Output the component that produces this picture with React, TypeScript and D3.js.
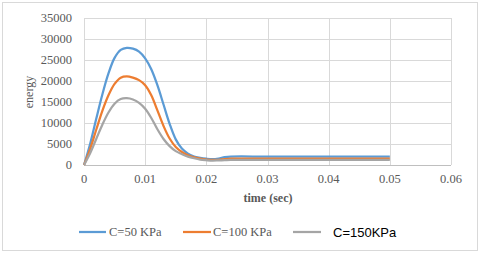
import React, { useEffect, useRef } from "react";
import * as d3 from "d3";

// time samples (sec)
const times = [
  0, 0.001, 0.002, 0.003, 0.004, 0.005, 0.006, 0.007, 0.008, 0.009, 0.01,
  0.011, 0.012, 0.013, 0.014, 0.015, 0.016, 0.017, 0.018, 0.019, 0.02,
  0.021, 0.022, 0.023, 0.024, 0.03, 0.04, 0.05,
];

const c50 = [
  0, 5000, 11000, 16800, 21800, 25500, 27400, 27900, 27700, 27000, 25400,
  22800, 19000, 14400, 9800, 6100, 3900, 2700, 2000, 1700, 1500,
  1400, 1550, 1850, 2000, 2000, 2000, 2000,
];

const c100 = [
  0, 3800, 8400, 12900, 16600, 19300, 20800, 21100, 20800, 20200, 19000,
  16600, 13000, 9300, 6300, 4300, 3100, 2300, 1800, 1500, 1300,
  1200, 1250, 1400, 1500, 1500, 1500, 1500,
];

const c150 = [
  0, 2800, 6200, 9600, 12500, 14600, 15700, 15900, 15600, 14800, 13400,
  11200, 8500, 6200, 4500, 3300, 2600, 2000, 1600, 1300, 1150,
  1050, 1100, 1150, 1200, 1200, 1200, 1200,
];

const seriesNames = ["C=50 KPa", "C=100 KPa", "C=150KPa"];
const seriesColors = ["#5B9BD5", "#ED7D31", "#A5A5A5"];
const xTicks = [0, 0.01, 0.02, 0.03, 0.04, 0.05, 0.06];
const yTicks = [0, 5000, 10000, 15000, 20000, 25000, 30000, 35000];

const W = 480;
const H = 253;

const App = () => {
  const svgRef = useRef<SVGSVGElement>(null);

  useEffect(() => {
    const svg = d3.select(svgRef.current);
    svg.selectAll("*").remove();

    const x = d3.scaleLinear().domain([0, 0.06]).range([84, 451]);
    const y = d3.scaleLinear().domain([0, 35000]).range([165, 18]);
    const serif = "'Liberation Serif', 'Times New Roman', serif";

    // outer frame
    svg.append("rect")
      .attr("x", 2.5).attr("y", 2.5)
      .attr("width", 475).attr("height", 248)
      .attr("fill", "#fff").attr("stroke", "#d9d9d9");

    // grid
    svg.append("g").selectAll("line").data(yTicks).enter().append("line")
      .attr("x1", x(0)).attr("x2", x(0.06))
      .attr("y1", (d) => Math.round(y(d)) + 0.5).attr("y2", (d) => Math.round(y(d)) + 0.5)
      .attr("stroke", (d) => (d === 0 ? "#bfbfbf" : "#d9d9d9"));
    svg.append("g").selectAll("line").data(xTicks).enter().append("line")
      .attr("y1", y(0)).attr("y2", y(35000))
      .attr("x1", (d) => Math.round(x(d)) + 0.5).attr("x2", (d) => Math.round(x(d)) + 0.5)
      .attr("stroke", "#d9d9d9");

    // y tick labels
    svg.append("g").selectAll("text").data(yTicks).enter().append("text")
      .attr("x", 72).attr("y", (d) => y(d))
      .attr("dy", "0.35em").attr("text-anchor", "end")
      .style("font-family", serif).style("font-size", "12.5px")
      .attr("fill", "#595959").text((d) => d);

    // x tick labels
    svg.append("g").selectAll("text").data(xTicks).enter().append("text")
      .attr("x", (d) => x(d)).attr("y", 179)
      .attr("dy", "0.35em").attr("text-anchor", "middle")
      .style("font-family", serif).style("font-size", "12.5px")
      .attr("fill", "#595959").text((d) => String(d));

    // axis titles
    svg.append("text")
      .attr("x", 268).attr("y", 198).attr("dy", "0.35em")
      .attr("text-anchor", "middle")
      .style("font-family", serif).style("font-size", "12px").style("font-weight", "bold")
      .attr("fill", "#595959").text("time (sec)");
    svg.append("text")
      .attr("transform", "translate(29,92) rotate(-90)")
      .attr("dy", "0.35em").attr("text-anchor", "middle")
      .style("font-family", serif).style("font-size", "12px")
      .attr("fill", "#595959").text("energy");

    // lines
    const line = d3.line<number>()
      .x((d, i) => x(times[i]))
      .y((d) => y(d))
      .curve(d3.curveCatmullRom.alpha(0.5));

    [c50, c100, c150].forEach((vals, i) => {
      svg.append("path")
        .datum(vals)
        .attr("d", line)
        .attr("fill", "none")
        .attr("stroke", seriesColors[i])
        .attr("stroke-width", 2.25)
        .attr("stroke-linejoin", "round");
    });

    // legend
    const legend = [
      { x1: 79, x2: 106, tx: 109, font: serif, fill: "#595959", size: "12.5px" },
      { x1: 183, x2: 211, tx: 213, font: serif, fill: "#595959", size: "12.5px" },
      { x1: 293, x2: 321, tx: 333, font: "'Liberation Sans', Arial, sans-serif", fill: "#000", size: "13px" },
    ];
    legend.forEach((l, i) => {
      svg.append("line")
        .attr("x1", l.x1).attr("x2", l.x2).attr("y1", 232).attr("y2", 232)
        .attr("stroke", seriesColors[i]).attr("stroke-width", 2.25);
      svg.append("text")
        .attr("x", l.tx).attr("y", 232).attr("dy", "0.35em")
        .style("font-family", l.font).style("font-size", l.size)
        .attr("fill", l.fill).text(seriesNames[i]);
    });
  }, []);

  return (
    <svg
      ref={svgRef}
      width={W}
      height={H}
      style={{ position: "absolute", left: 0, top: 0, display: "block" }}
    />
  );
};

export default App;
